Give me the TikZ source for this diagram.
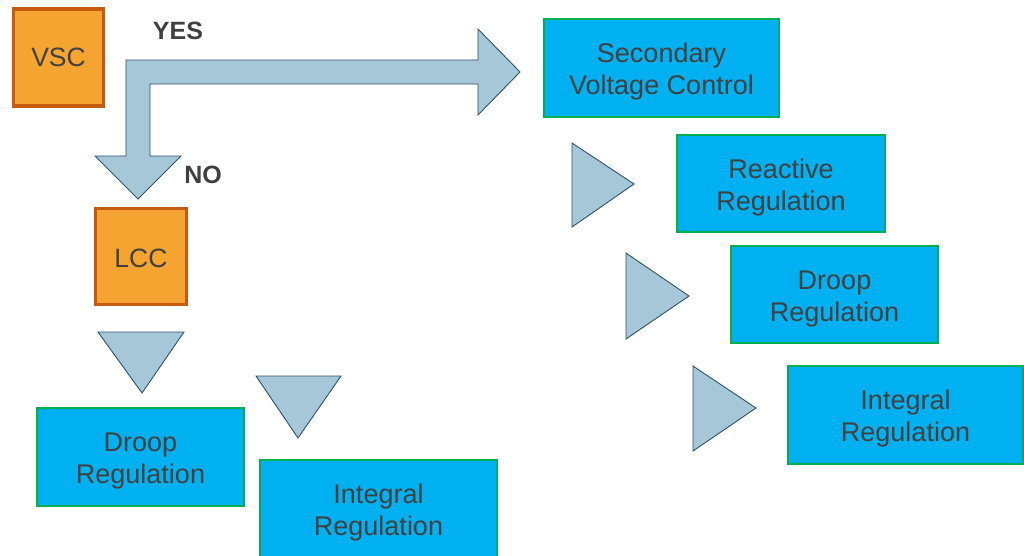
\documentclass[tikz,border=0pt]{standalone}
\usepackage{fontspec}
\setmainfont{Liberation Sans}
\definecolor{convfill}{HTML}{F6A431}
\definecolor{convedge}{HTML}{C55A11}
\definecolor{ctrlfill}{HTML}{00B0F0}
\definecolor{ctrledge}{HTML}{00B050}
\definecolor{arrfill}{HTML}{A5C7D8}
\definecolor{arredge}{HTML}{2E5270}
\definecolor{txt}{HTML}{404040}
% two centred lines, lowered a little so the caps sit in the middle of the box
\newcommand{\twolines}[2]{\raisebox{-4.5pt}[\height][\depth]{\begin{tabular}{@{}c@{}}#1\\#2\end{tabular}}}
\begin{document}
\begin{tikzpicture}[x=1pt,y=-1pt,
  conv/.style={draw=convedge,line width=3.2pt,fill=convfill,text=txt,
    font=\fontsize{26.5}{32}\selectfont,inner sep=0pt},
  ctrl/.style={draw=ctrledge,line width=1.2pt,fill=ctrlfill,text=txt,
    font=\fontsize{27}{32}\selectfont,inner sep=0pt},
  flow/.style={draw=arredge,line width=0.9pt,fill=arrfill,line join=miter},
  answer/.style={text=txt,font=\fontsize{25}{30}\selectfont\bfseries,inner sep=0pt}]
\useasboundingbox (0,0) rectangle (1024,555);

% converter boxes
\node[conv,minimum width=90pt,minimum height=97pt] (vsc) at (58.5,57.5) {VSC};
\node[conv,minimum width=91pt,minimum height=96pt] (lcc) at (141,256.5) {\raisebox{-2pt}[\height][\depth]{LCC}};

% control boxes
\node[ctrl,minimum width=235pt,minimum height=98pt] (svc) at (661.5,68) {\twolines{Secondary}{Voltage Control}};
\node[ctrl,minimum width=208pt,minimum height=97pt] (rr) at (781,183.5) {\twolines{Reactive}{Regulation}};
\node[ctrl,minimum width=207pt,minimum height=97pt] (drR) at (834.5,294.5) {\twolines{Droop}{Regulation}};
\node[ctrl,minimum width=235pt,minimum height=98pt] (irR) at (905.5,415) {\twolines{Integral}{Regulation}};
\node[ctrl,minimum width=207pt,minimum height=98pt] (drL) at (140.5,457) {\twolines{Droop}{Regulation}};
\node[ctrl,minimum width=237pt,minimum height=98pt] (irL) at (378.5,509) {\twolines{Integral}{Regulation}};

% decision labels
\node[answer] (yes) at (178,31) {YES};
\node[answer] (no) at (203,175) {NO};

% bent block arrow: down to LCC, right to the secondary control
\draw[flow] (126,156) -- (95,156) -- (138,199) -- (181,156) -- (150,156)
  -- (150,84) -- (478,84) -- (478,115) -- (520,72) -- (478,29)
  -- (478,60) -- (126,60) -- cycle;

% step markers, right branch
\draw[flow] (572,143) -- (634,184) -- (572,227) -- cycle;
\draw[flow] (626,253) -- (689,296) -- (626,339) -- cycle;
\draw[flow] (693,366) -- (756,408) -- (693,451) -- cycle;

% step markers, left branch
\draw[flow] (98,332) -- (184,332) -- (142,393) -- cycle;
\draw[flow] (256,376) -- (341,376) -- (298,438) -- cycle;
\end{tikzpicture}
\end{document}
